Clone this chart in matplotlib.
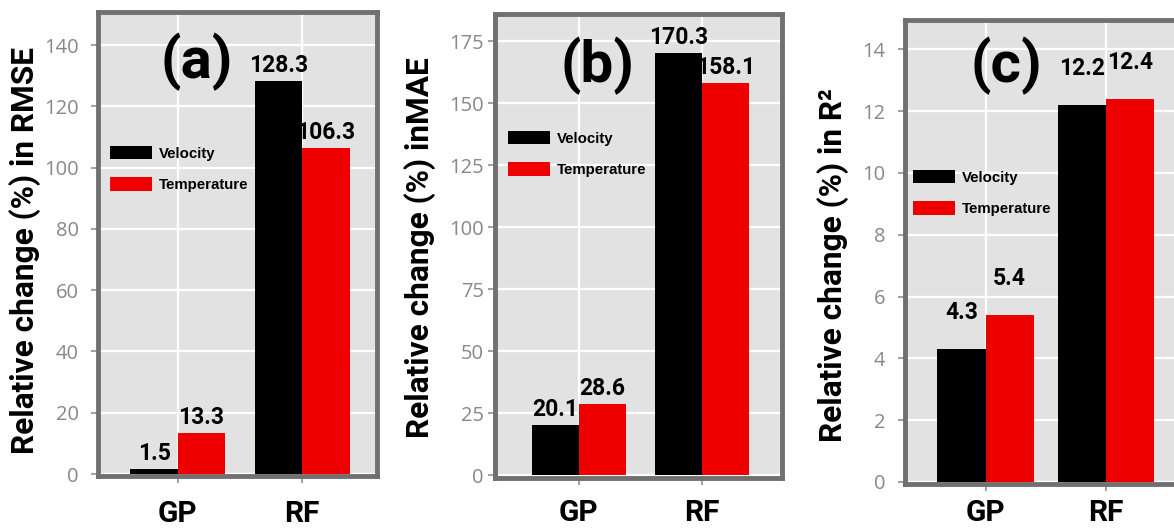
import numpy as np
import matplotlib
matplotlib.use("Agg")
import matplotlib.pyplot as plt

plt.rcParams['font.family'] = ['Roboto', 'DejaVu Sans']

# data
models = ["GP", "RF"]
series = ["Velocity", "Temperature"]
rmse_vel = [1.5, 128.3]
rmse_temp = [13.3, 106.3]
mae_vel = [20.1, 170.3]
mae_temp = [28.6, 158.1]
r2_vel = [4.3, 12.2]
r2_temp = [5.4, 12.4]

W, H = 1174, 532
fig = plt.figure(figsize=(W / 100, H / 100), dpi=100)

bg = '#e2e2e2'
frame = '#707070'
red = '#ee0000'


def px_axes(l, t, r, b):
    return fig.add_axes([l / W, 1 - b / H, (r - l) / W, (b - t) / H])


panels = [
    dict(box=(98, 12, 377, 476), ylim=(-0.65, 150.8), yticks=np.arange(0, 141, 20),
         xlim=(-0.64, 1.6), w=0.38, off=3, vel=rmse_vel, temp=rmse_temp, ypad=9, xpad=12,
         tag="(a)", tagxy=(197, 62), ylab="Relative change (%) in RMSE", ylx=25, yly=251,
         leg=(107, 143)),
    dict(box=(495, 14, 782, 478), ylim=(-1.2, 185.9), yticks=np.arange(0, 176, 25),
         xlim=(-0.68, 1.65), w=0.38, off=3, vel=mae_vel, temp=mae_temp, ypad=3, xpad=10,
         tag="(b)", tagxy=(598, 66), ylab="Relative change (%) inMAE", ylx=420, yly=248,
         leg=(505, 128)),
    dict(box=(905, 20, 1178, 484), ylim=(-0.065, 14.95), yticks=np.arange(0, 15, 2),
         xlim=(-0.67, 1.6), w=0.4, off=18, vel=r2_vel, temp=r2_temp, ypad=9, xpad=6,
         tag="(c)", tagxy=(1006, 66), ylab="Relative change (%) in R²", ylx=833, yly=265,
         leg=(910, 167)),
]

for p in panels:
    ax = px_axes(*p["box"])
    ax.set_facecolor(bg)
    x = np.arange(len(models))
    w = p["w"]
    b1 = ax.bar(x - w / 2, p["vel"], w, color='black', label=series[0], zorder=3)
    b2 = ax.bar(x + w / 2, p["temp"], w, color=red, label=series[1], zorder=3)
    for bars in (b1, b2):
        for r in bars:
            ax.annotate(f"{r.get_height():.1f}", (r.get_x() + r.get_width() / 2, r.get_height()),
                        xytext=(0, p["off"]), textcoords='offset points', ha='center', va='bottom',
                        fontsize=16.5, fontweight='bold', color='black', zorder=4)
    ax.set_xlim(*p["xlim"])
    ax.set_ylim(*p["ylim"])
    ax.set_yticks(p["yticks"])
    ax.set_xticks(x)
    ax.set_xticklabels(models, fontsize=21.5, fontweight='bold', color='black')
    for t in ax.get_yticklabels():
        t.set_family(['Open Sans', 'DejaVu Sans'])
    ax.tick_params(axis='y', labelsize=14.5, labelcolor='#888888', color='#909090',
                   length=5, width=1.2, pad=p["ypad"])
    ax.tick_params(axis='x', color='#909090', length=5, width=1.2, pad=p["xpad"])
    ax.grid(True, color='white', linewidth=1.6, zorder=0)
    ax.set_axisbelow(True)
    for s in ax.spines.values():
        s.set_color(frame)
        s.set_linewidth(3.5)

    fig.text(p["tagxy"][0] / W, 1 - p["tagxy"][1] / H, p["tag"], fontsize=42, fontweight='bold',
             ha='center', va='center')
    fig.text(p["ylx"] / W, 1 - p["yly"] / H, p["ylab"], rotation=90, fontsize=22.8,
             fontweight='bold', ha='center', va='center')

    lx, ly = p["leg"]
    ax.legend(loc='upper left', bbox_to_anchor=(lx / W, 1 - ly / H), bbox_transform=fig.transFigure,
              frameon=False, prop=dict(family=['Liberation Sans', 'DejaVu Sans'], size=10.8, weight='bold'),
              handlelength=2.8, handleheight=1.0, labelspacing=1.1, handletextpad=0.45,
              borderaxespad=0, borderpad=0.2)

fig.savefig("out.png", dpi=100)
